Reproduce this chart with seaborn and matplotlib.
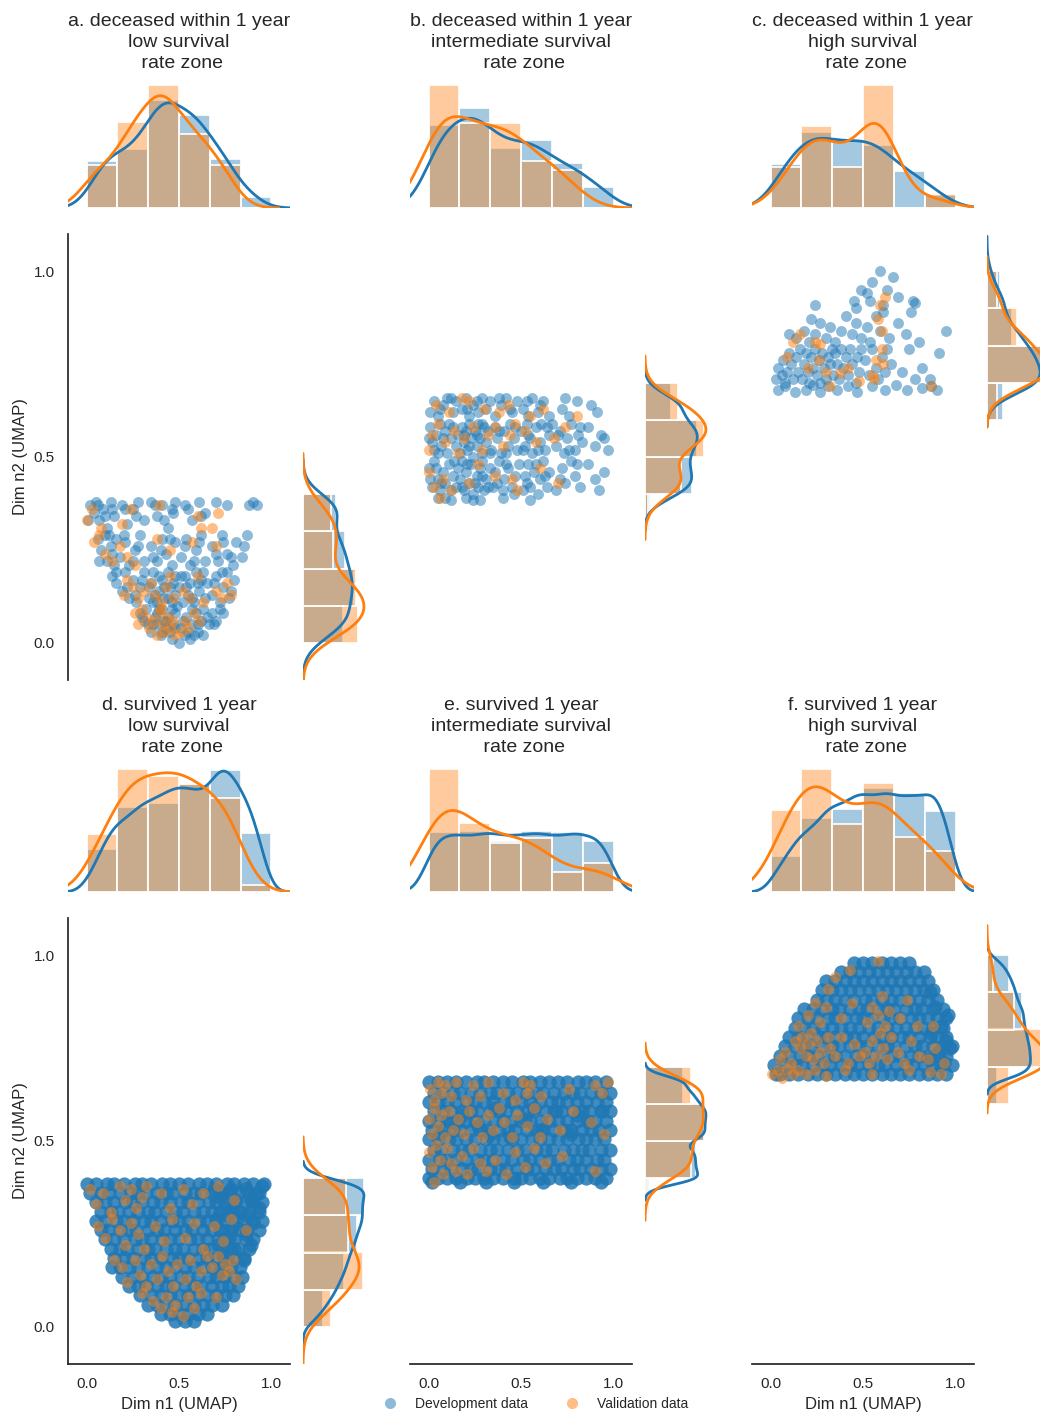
import numpy as np
import matplotlib
matplotlib.use("Agg")
import matplotlib.pyplot as plt
from matplotlib.lines import Line2D
import seaborn as sns

sns.set_theme(style="white", context="notebook")
plt.rcParams["font.family"] = ["Liberation Sans", "DejaVu Sans"]

DEV_COLOR = "#1f77b4"
VAL_COLOR = "#ff7f0e"

TITLES = [
    "a. deceased within 1 year\nlow survival\n rate zone",
    "b. deceased within 1 year\nintermediate survival\n rate zone",
    "c. deceased within 1 year\nhigh survival\n rate zone",
    "d. survived 1 year\nlow survival\n rate zone",
    "e. survived 1 year\nintermediate survival\n rate zone",
    "f. survived 1 year\nhigh survival\n rate zone",
]
X_EDGES = [0.0, 0.1667, 0.3333, 0.5, 0.6667, 0.8333, 1.0]
Y_EDGES_LOW = [0.0, 0.1, 0.2, 0.3, 0.4]
Y_EDGES_MID = [0.3, 0.4, 0.5, 0.6, 0.7]
Y_EDGES_HIGH = [0.6, 0.7, 0.8, 0.9, 1.0]
TICKS = [0.0, 0.5, 1.0]
LEGEND_LABELS = ["Development data", "Validation data"]

# ---- a. deceased / low zone ----
A_DEV = [
    (0.29, 0.08), (0.31, 0.06), (0.32, 0.09),
    (0.35, 0.03), (0.37, 0.07), (0.38, 0.05), (0.40, 0.02), (0.41, 0.09), (0.43, 0.04), (0.44, 0.07),
    (0.46, 0.01), (0.47, 0.05), (0.48, 0.08), (0.45, 0.03), (0.42, 0.06), (0.39, 0.09),
    (0.50, 0.00), (0.51, 0.04), (0.53, 0.02), (0.54, 0.07), (0.56, 0.01), (0.57, 0.05), (0.59, 0.08),
    (0.60, 0.03), (0.62, 0.06), (0.63, 0.09), (0.65, 0.07), (0.58, 0.02),
    (0.68, 0.08), (0.70, 0.06), (0.72, 0.09),
    (0.30, 0.07), (0.33, 0.05), (0.36, 0.05), (0.38, 0.08), (0.41, 0.03), (0.43, 0.06), (0.46, 0.09),
    (0.48, 0.04), (0.52, 0.06), (0.55, 0.03), (0.57, 0.09), (0.60, 0.05), (0.63, 0.02), (0.66, 0.05),
    (0.69, 0.05), (0.74, 0.08),
    (0.14, 0.18), (0.16, 0.16),
    (0.19, 0.14), (0.21, 0.19), (0.23, 0.12), (0.25, 0.17), (0.27, 0.11), (0.29, 0.15), (0.31, 0.19),
    (0.34, 0.12), (0.35, 0.16), (0.36, 0.19), (0.38, 0.11), (0.39, 0.14), (0.41, 0.17), (0.42, 0.12),
    (0.44, 0.19), (0.45, 0.15), (0.46, 0.11), (0.48, 0.13), (0.48, 0.18), (0.37, 0.13),
    (0.50, 0.15), (0.52, 0.11), (0.53, 0.18), (0.55, 0.13), (0.56, 0.16), (0.58, 0.11), (0.59, 0.19),
    (0.61, 0.14), (0.62, 0.17), (0.64, 0.12), (0.65, 0.16),
    (0.68, 0.13), (0.70, 0.18), (0.72, 0.11), (0.74, 0.15), (0.76, 0.19), (0.78, 0.14), (0.80, 0.17),
    (0.16, 0.19), (0.22, 0.15), (0.26, 0.13), (0.30, 0.17), (0.34, 0.15), (0.36, 0.11), (0.39, 0.18),
    (0.42, 0.15), (0.44, 0.12), (0.47, 0.16), (0.49, 0.10), (0.51, 0.18), (0.54, 0.15), (0.57, 0.12),
    (0.60, 0.16), (0.63, 0.19), (0.69, 0.16), (0.73, 0.19), (0.77, 0.12),
    (0.06, 0.28), (0.08, 0.25), (0.10, 0.29), (0.11, 0.22), (0.13, 0.26), (0.15, 0.21), (0.16, 0.28),
    (0.18, 0.23), (0.21, 0.27), (0.23, 0.21), (0.26, 0.25), (0.29, 0.29), (0.31, 0.22),
    (0.35, 0.26), (0.38, 0.22), (0.41, 0.28), (0.43, 0.24), (0.46, 0.21), (0.48, 0.27),
    (0.51, 0.23), (0.54, 0.28), (0.56, 0.21), (0.59, 0.25), (0.62, 0.29), (0.64, 0.22),
    (0.68, 0.26), (0.71, 0.22), (0.73, 0.29), (0.76, 0.24), (0.79, 0.21), (0.81, 0.27),
    (0.85, 0.26), (0.87, 0.29),
    (0.07, 0.22), (0.12, 0.29), (0.14, 0.24), (0.20, 0.29), (0.25, 0.22), (0.28, 0.26), (0.36, 0.23),
    (0.40, 0.25), (0.45, 0.28), (0.53, 0.26), (0.58, 0.22), (0.61, 0.27), (0.70, 0.24), (0.74, 0.27),
    (0.78, 0.23), (0.84, 0.23),
    (0.02, 0.37), (0.04, 0.35), (0.05, 0.38), (0.07, 0.33), (0.09, 0.36), (0.11, 0.31), (0.13, 0.38), (0.15, 0.34),
    (0.19, 0.37), (0.22, 0.32), (0.25, 0.36), (0.28, 0.38), (0.31, 0.33),
    (0.35, 0.38), (0.38, 0.34), (0.41, 0.37), (0.44, 0.31), (0.46, 0.36), (0.48, 0.38),
    (0.53, 0.37), (0.57, 0.33), (0.61, 0.38), (0.64, 0.35),
    (0.76, 0.37), (0.90, 0.38), (0.92, 0.37),
    (0.01, 0.33), (0.06, 0.37), (0.10, 0.34), (0.14, 0.36), (0.21, 0.36), (0.27, 0.34), (0.37, 0.37),
    (0.42, 0.33), (0.47, 0.35), (0.55, 0.36), (0.62, 0.34), (0.70, 0.38), (0.88, 0.37),
]
A_VAL = [
    (0.26, 0.08), (0.28, 0.05), (0.30, 0.09), (0.32, 0.07),
    (0.34, 0.04), (0.36, 0.06), (0.38, 0.02), (0.39, 0.08), (0.41, 0.05), (0.42, 0.03), (0.44, 0.07),
    (0.45, 0.04), (0.47, 0.06), (0.48, 0.02), (0.40, 0.09),
    (0.51, 0.03), (0.53, 0.06), (0.55, 0.04), (0.58, 0.08), (0.61, 0.06),
    (0.20, 0.13), (0.22, 0.17), (0.25, 0.15), (0.28, 0.12), (0.31, 0.14),
    (0.35, 0.16), (0.37, 0.13), (0.40, 0.11), (0.43, 0.15), (0.45, 0.18), (0.47, 0.12),
    (0.52, 0.14), (0.56, 0.12), (0.60, 0.18), (0.63, 0.11),
    (0.70, 0.14), (0.73, 0.12), (0.76, 0.16), (0.78, 0.13),
    (0.04, 0.27), (0.07, 0.29), (0.10, 0.24), (0.14, 0.22), (0.18, 0.26), (0.22, 0.23), (0.26, 0.21),
    (0.38, 0.28), (0.45, 0.25), (0.57, 0.27), (0.70, 0.26),
    (0.00, 0.33), (0.03, 0.36), (0.08, 0.31), (0.19, 0.32), (0.24, 0.36), (0.39, 0.37),
    (0.60, 0.34), (0.62, 0.31), (0.68, 0.31), (0.71, 0.35),
]

# ---- b. deceased / intermediate zone ----
B_DEV = [
    (0.05, 0.39), (0.12, 0.385), (0.20, 0.39), (0.28, 0.385), (0.40, 0.39), (0.55, 0.385),
    (0.09, 0.39), (0.24, 0.385),
    (0.00, 0.47), (0.02, 0.42), (0.03, 0.49), (0.05, 0.44), (0.06, 0.41), (0.08, 0.46), (0.09, 0.43),
    (0.11, 0.48), (0.12, 0.41), (0.13, 0.45), (0.15, 0.42), (0.16, 0.47),
    (0.17, 0.44), (0.18, 0.49), (0.19, 0.41), (0.20, 0.46), (0.22, 0.43), (0.23, 0.48), (0.24, 0.40),
    (0.26, 0.45), (0.27, 0.42), (0.28, 0.47), (0.29, 0.49), (0.30, 0.41), (0.31, 0.44), (0.33, 0.47),
    (0.35, 0.42), (0.36, 0.46), (0.38, 0.49), (0.40, 0.41), (0.41, 0.44), (0.43, 0.47), (0.45, 0.42),
    (0.47, 0.45), (0.49, 0.48),
    (0.51, 0.41), (0.52, 0.45), (0.54, 0.48), (0.55, 0.42), (0.57, 0.46), (0.59, 0.40), (0.60, 0.44),
    (0.62, 0.49), (0.64, 0.42), (0.65, 0.46),
    (0.69, 0.41), (0.72, 0.47), (0.74, 0.43), (0.77, 0.49), (0.79, 0.45), (0.82, 0.42),
    (0.86, 0.48), (0.90, 0.44), (0.95, 0.46),
    (0.01, 0.44), (0.04, 0.47), (0.07, 0.43), (0.14, 0.49), (0.18, 0.42), (0.21, 0.48), (0.25, 0.43),
    (0.29, 0.45), (0.32, 0.42), (0.37, 0.43), (0.42, 0.48), (0.46, 0.40), (0.53, 0.43), (0.58, 0.48),
    (0.63, 0.45), (0.71, 0.44), (0.80, 0.48), (0.92, 0.41),
    (0.00, 0.55), (0.01, 0.58), (0.03, 0.52), (0.04, 0.56), (0.06, 0.59), (0.07, 0.53), (0.09, 0.57),
    (0.10, 0.51), (0.12, 0.55), (0.13, 0.58), (0.15, 0.53), (0.16, 0.56),
    (0.17, 0.51), (0.18, 0.58), (0.19, 0.54), (0.20, 0.57), (0.21, 0.52), (0.22, 0.59), (0.23, 0.55),
    (0.24, 0.50), (0.25, 0.57), (0.26, 0.53), (0.27, 0.59), (0.28, 0.55), (0.29, 0.51), (0.30, 0.58),
    (0.31, 0.54), (0.32, 0.57),
    (0.34, 0.52), (0.36, 0.58), (0.37, 0.55), (0.39, 0.51), (0.41, 0.57), (0.43, 0.53), (0.44, 0.59),
    (0.46, 0.55), (0.48, 0.52),
    (0.50, 0.57), (0.52, 0.53), (0.53, 0.59), (0.55, 0.55), (0.56, 0.51), (0.58, 0.58), (0.60, 0.54),
    (0.61, 0.59), (0.63, 0.52), (0.65, 0.56),
    (0.67, 0.59), (0.69, 0.53), (0.71, 0.57), (0.73, 0.51), (0.75, 0.55), (0.77, 0.59), (0.79, 0.52),
    (0.81, 0.56), (0.83, 0.54),
    (0.86, 0.58), (0.90, 0.53), (0.93, 0.56), (0.97, 0.52),
    (0.02, 0.54), (0.05, 0.51), (0.08, 0.55), (0.11, 0.59), (0.19, 0.56), (0.22, 0.53), (0.26, 0.56),
    (0.29, 0.59), (0.33, 0.51), (0.38, 0.57), (0.42, 0.51), (0.47, 0.58), (0.51, 0.52), (0.54, 0.56),
    (0.59, 0.52), (0.64, 0.58), (0.70, 0.56), (0.76, 0.52), (0.82, 0.58), (0.95, 0.55),
    (0.01, 0.62), (0.03, 0.65), (0.05, 0.61), (0.08, 0.64), (0.10, 0.66), (0.13, 0.62), (0.15, 0.65),
    (0.18, 0.63), (0.20, 0.66), (0.22, 0.61), (0.24, 0.64), (0.27, 0.62), (0.29, 0.66), (0.31, 0.63),
    (0.33, 0.65),
    (0.36, 0.61), (0.39, 0.64), (0.42, 0.66), (0.45, 0.62), (0.48, 0.65),
    (0.51, 0.63), (0.54, 0.61), (0.56, 0.66), (0.59, 0.62), (0.62, 0.65), (0.65, 0.61),
    (0.72, 0.63), (0.76, 0.61), (0.80, 0.65), (0.88, 0.64),
    (0.06, 0.63), (0.12, 0.66), (0.21, 0.63), (0.26, 0.65), (0.38, 0.66), (0.44, 0.63), (0.53, 0.65),
    (0.60, 0.64), (0.74, 0.66), (0.91, 0.62),
]
B_VAL = [
    (0.06, 0.39),
    (0.00, 0.46), (0.03, 0.42), (0.08, 0.44), (0.12, 0.41), (0.22, 0.43), (0.27, 0.48),
    (0.36, 0.45), (0.45, 0.44), (0.48, 0.41), (0.60, 0.47), (0.70, 0.43),
    (0.00, 0.52), (0.02, 0.56), (0.05, 0.59), (0.09, 0.54), (0.14, 0.57), (0.16, 0.51),
    (0.19, 0.55), (0.24, 0.58), (0.29, 0.52), (0.32, 0.56),
    (0.36, 0.58), (0.40, 0.53), (0.44, 0.56), (0.47, 0.59), (0.52, 0.57), (0.58, 0.54),
    (0.68, 0.55), (0.74, 0.58),
    (0.04, 0.64), (0.11, 0.62), (0.18, 0.66), (0.22, 0.65), (0.30, 0.63),
    (0.38, 0.62), (0.43, 0.64), (0.55, 0.61), (0.62, 0.63), (0.80, 0.61),
]

# ---- c. deceased / high zone ----
C_DEV = [
    (0.04, 0.68), (0.08, 0.69), (0.13, 0.675), (0.19, 0.68), (0.23, 0.695), (0.27, 0.675), (0.31, 0.69),
    (0.36, 0.68), (0.42, 0.69), (0.47, 0.675), (0.55, 0.69), (0.62, 0.68),
    (0.68, 0.695), (0.74, 0.68), (0.82, 0.685), (0.87, 0.69), (0.90, 0.68),
    (0.03, 0.71), (0.04, 0.74), (0.06, 0.72), (0.07, 0.76), (0.08, 0.70), (0.09, 0.73), (0.10, 0.78),
    (0.11, 0.75), (0.12, 0.71), (0.14, 0.77), (0.15, 0.73), (0.16, 0.79),
    (0.17, 0.71), (0.18, 0.75), (0.19, 0.78), (0.20, 0.73), (0.21, 0.70), (0.22, 0.77), (0.23, 0.74),
    (0.24, 0.79), (0.25, 0.72), (0.26, 0.76), (0.27, 0.70), (0.28, 0.78), (0.29, 0.74), (0.30, 0.71),
    (0.31, 0.77), (0.32, 0.75), (0.33, 0.79),
    (0.34, 0.72), (0.35, 0.78), (0.36, 0.75), (0.37, 0.71), (0.38, 0.79), (0.39, 0.74), (0.41, 0.77),
    (0.42, 0.72), (0.43, 0.79), (0.44, 0.75), (0.46, 0.70), (0.47, 0.77), (0.48, 0.73), (0.49, 0.79),
    (0.51, 0.76), (0.53, 0.72), (0.55, 0.79), (0.57, 0.74), (0.58, 0.71), (0.60, 0.77), (0.62, 0.73),
    (0.63, 0.79), (0.65, 0.75),
    (0.71, 0.73), (0.75, 0.79), (0.78, 0.71), (0.82, 0.74), (0.86, 0.71), (0.91, 0.78),
    (0.10, 0.83), (0.14, 0.82),
    (0.18, 0.84), (0.21, 0.81), (0.22, 0.87), (0.24, 0.83), (0.27, 0.86), (0.30, 0.82), (0.32, 0.85),
    (0.35, 0.81), (0.38, 0.84), (0.41, 0.88), (0.44, 0.83), (0.46, 0.86), (0.49, 0.82),
    (0.52, 0.85), (0.54, 0.81), (0.57, 0.88), (0.59, 0.84), (0.61, 0.89), (0.64, 0.82),
    (0.69, 0.86), (0.73, 0.83), (0.76, 0.89), (0.80, 0.81), (0.95, 0.84),
    (0.24, 0.91), (0.45, 0.92), (0.46, 0.90), (0.49, 0.95),
    (0.52, 0.94), (0.54, 0.92), (0.55, 0.97), (0.59, 1.00), (0.61, 0.91), (0.63, 0.95), (0.66, 0.985),
    (0.69, 0.93), (0.77, 0.92), (0.78, 0.915),
]
C_VAL = [
    (0.09, 0.77), (0.12, 0.81), (0.16, 0.83),
    (0.20, 0.74), (0.24, 0.81), (0.26, 0.76), (0.27, 0.805), (0.32, 0.69), (0.30, 0.73),
    (0.375, 0.726), (0.48, 0.705), (0.42, 0.74),
    (0.56, 0.71), (0.60, 0.79), (0.58, 0.87), (0.59, 0.91), (0.61, 0.75), (0.55, 0.72),
    (0.57, 0.76), (0.62, 0.93), (0.60, 0.84),
    (0.87, 0.69),
]

# ---- d. survived / low zone (dense cloud read row by row) ----
D_DEV_ROWS = [
    (0.385, [0.00, 0.05, 0.11, 0.15, 0.20, 0.26, 0.30, 0.35, 0.41, 0.45, 0.50, 0.55, 0.61, 0.65, 0.70, 0.76, 0.80, 0.85, 0.90, 0.96]),
    (0.36, [0.02, 0.08, 0.12, 0.18, 0.24, 0.28, 0.32, 0.38, 0.43, 0.47, 0.53, 0.58, 0.62, 0.68, 0.73, 0.77, 0.82, 0.88, 0.93]),
    (0.335, [0.05, 0.10, 0.15, 0.21, 0.25, 0.30, 0.36, 0.40, 0.45, 0.51, 0.55, 0.60, 0.66, 0.70, 0.75, 0.80, 0.86, 0.90, 0.95]),
    (0.31, [0.08, 0.13, 0.17, 0.23, 0.28, 0.33, 0.37, 0.43, 0.48, 0.52, 0.58, 0.63, 0.68, 0.72, 0.78, 0.83, 0.88, 0.93]),
    (0.285, [0.05, 0.10, 0.16, 0.20, 0.25, 0.31, 0.35, 0.40, 0.46, 0.50, 0.55, 0.61, 0.65, 0.70, 0.75, 0.81, 0.85, 0.90, 0.95]),
    (0.26, [0.08, 0.12, 0.18, 0.23, 0.27, 0.33, 0.38, 0.42, 0.48, 0.53, 0.57, 0.63, 0.68, 0.72, 0.78, 0.83, 0.87, 0.93]),
    (0.235, [0.10, 0.15, 0.20, 0.26, 0.30, 0.35, 0.41, 0.45, 0.50, 0.56, 0.60, 0.65, 0.71, 0.75, 0.80, 0.86, 0.90]),
    (0.21, [0.13, 0.18, 0.22, 0.28, 0.33, 0.37, 0.43, 0.48, 0.52, 0.58, 0.63, 0.67, 0.73, 0.78, 0.82, 0.88]),
    (0.185, [0.15, 0.20, 0.25, 0.31, 0.35, 0.40, 0.46, 0.50, 0.55, 0.61, 0.65, 0.70, 0.76, 0.80, 0.85]),
    (0.16, [0.14, 0.18, 0.23, 0.28, 0.33, 0.38, 0.43, 0.48, 0.53, 0.58, 0.63, 0.68, 0.73, 0.78, 0.83]),
    (0.135, [0.19, 0.25, 0.30, 0.36, 0.40, 0.45, 0.51, 0.55, 0.60, 0.66, 0.70, 0.75, 0.80, 0.84]),
    (0.11, [0.23, 0.28, 0.32, 0.38, 0.43, 0.47, 0.53, 0.58, 0.62, 0.68, 0.73, 0.77, 0.82]),
    (0.085, [0.29, 0.35, 0.40, 0.45, 0.50, 0.55, 0.60, 0.65, 0.70, 0.75, 0.79]),
    (0.06, [0.33, 0.38, 0.43, 0.48, 0.53, 0.58, 0.63, 0.68, 0.73]),
    (0.035, [0.40, 0.45, 0.50, 0.55, 0.60, 0.65]),
    (0.015, [0.48, 0.53, 0.58]),
]
D_DEV_EXTRA = [
    (0.69, 0.37), (0.72, 0.35), (0.75, 0.32), (0.78, 0.37), (0.81, 0.34), (0.70, 0.29), (0.73, 0.26),
    (0.76, 0.30), (0.79, 0.27), (0.82, 0.31), (0.71, 0.22), (0.74, 0.19), (0.77, 0.24), (0.80, 0.21),
    (0.72, 0.15),
    (0.86, 0.37), (0.89, 0.34), (0.92, 0.36), (0.95, 0.38), (0.87, 0.30), (0.90, 0.28), (0.93, 0.32),
    (0.86, 0.25), (0.89, 0.22), (0.85, 0.18),
]
D_VAL = [
    (0.30, 0.09), (0.36, 0.07), (0.40, 0.05), (0.43, 0.08), (0.46, 0.04), (0.48, 0.06),
    (0.52, 0.03), (0.55, 0.08), (0.58, 0.05), (0.62, 0.09), (0.70, 0.08),
    (0.15, 0.18), (0.19, 0.16), (0.22, 0.12), (0.26, 0.18), (0.29, 0.14), (0.32, 0.11),
    (0.35, 0.17), (0.38, 0.13), (0.41, 0.19), (0.44, 0.15), (0.47, 0.11), (0.49, 0.17),
    (0.53, 0.13), (0.56, 0.18), (0.59, 0.11), (0.62, 0.15), (0.65, 0.19),
    (0.68, 0.16), (0.71, 0.19), (0.73, 0.14), (0.75, 0.17), (0.77, 0.15), (0.79, 0.18), (0.81, 0.13),
    (0.06, 0.27), (0.10, 0.24), (0.14, 0.29), (0.18, 0.26), (0.21, 0.22), (0.24, 0.28), (0.28, 0.25),
    (0.31, 0.21), (0.37, 0.27), (0.42, 0.23), (0.46, 0.29), (0.53, 0.24), (0.58, 0.28), (0.63, 0.21),
    (0.69, 0.27), (0.74, 0.23), (0.78, 0.29), (0.86, 0.26),
    (0.02, 0.37), (0.05, 0.33), (0.09, 0.36), (0.13, 0.31), (0.18, 0.38), (0.21, 0.34), (0.24, 0.37),
    (0.27, 0.32), (0.30, 0.35), (0.32, 0.38), (0.40, 0.36), (0.45, 0.32), (0.52, 0.37), (0.57, 0.33),
    (0.63, 0.36), (0.71, 0.38), (0.80, 0.34),
]

# ---- e. survived / intermediate zone ----
E_DEV_ROWS = [
    (0.40, [0.00, 0.05, 0.10, 0.15, 0.21, 0.25, 0.30, 0.35, 0.40, 0.46, 0.50, 0.55, 0.60, 0.65, 0.71, 0.75, 0.80, 0.85, 0.90, 0.96]),
    (0.425, [0.02, 0.08, 0.12, 0.18, 0.23, 0.27, 0.33, 0.38, 0.42, 0.48, 0.53, 0.57, 0.63, 0.68, 0.72, 0.78, 0.82, 0.88, 0.93, 0.98]),
    (0.45, [0.00, 0.06, 0.10, 0.15, 0.20, 0.26, 0.30, 0.35, 0.40, 0.45, 0.51, 0.55, 0.60, 0.65, 0.70, 0.76, 0.80, 0.85, 0.91, 0.95]),
    (0.475, [0.03, 0.07, 0.13, 0.18, 0.22, 0.28, 0.33, 0.37, 0.43, 0.48, 0.52, 0.58, 0.63, 0.67, 0.73, 0.78, 0.83, 0.87, 0.93, 0.98]),
    (0.505, [0.00, 0.05, 0.11, 0.15, 0.20, 0.25, 0.31, 0.35, 0.40, 0.45, 0.50, 0.56, 0.60, 0.65, 0.70, 0.75, 0.81, 0.85, 0.90, 0.95]),
    (0.53, [0.02, 0.08, 0.13, 0.17, 0.23, 0.28, 0.32, 0.38, 0.43, 0.47, 0.53, 0.58, 0.62, 0.68, 0.73, 0.77, 0.83, 0.88, 0.92, 0.98]),
    (0.555, [0.00, 0.05, 0.10, 0.16, 0.20, 0.25, 0.30, 0.36, 0.40, 0.45, 0.50, 0.55, 0.61, 0.65, 0.70, 0.75, 0.80, 0.86, 0.90, 0.96]),
    (0.58, [0.03, 0.08, 0.12, 0.18, 0.23, 0.27, 0.33, 0.38, 0.42, 0.48, 0.53, 0.57, 0.63, 0.68, 0.72, 0.78, 0.83, 0.87, 0.93, 0.98]),
    (0.605, [0.00, 0.05, 0.10, 0.15, 0.21, 0.25, 0.30, 0.35, 0.41, 0.45, 0.50, 0.55, 0.60, 0.66, 0.70, 0.75, 0.80, 0.85, 0.91, 0.96]),
    (0.63, [0.03, 0.08, 0.13, 0.17, 0.23, 0.28, 0.33, 0.37, 0.43, 0.48, 0.53, 0.58, 0.62, 0.68, 0.73, 0.78, 0.82, 0.88, 0.93, 0.98]),
    (0.66, [0.00, 0.05, 0.10, 0.15, 0.20, 0.26, 0.30, 0.35, 0.40, 0.45, 0.51, 0.55, 0.60, 0.65, 0.70, 0.75, 0.81, 0.85, 0.90, 0.96]),
]
E_DEV_EXTRA = [
    (0.02, 0.39), (0.17, 0.39), (0.31, 0.39), (0.46, 0.39), (0.62, 0.39), (0.77, 0.39), (0.93, 0.39),
    (0.06, 0.52), (0.18, 0.57), (0.27, 0.54), (0.36, 0.59), (0.44, 0.51), (0.52, 0.56), (0.61, 0.53),
    (0.69, 0.58), (0.77, 0.52), (0.86, 0.55), (0.94, 0.58), (0.12, 0.55), (0.57, 0.59), (0.81, 0.57),
    (0.33, 0.52),
]
E_VAL = [
    (0.03, 0.39),
    (0.00, 0.47), (0.02, 0.43), (0.04, 0.49), (0.06, 0.45), (0.08, 0.41), (0.10, 0.48), (0.12, 0.44),
    (0.15, 0.42), (0.18, 0.46), (0.21, 0.41), (0.24, 0.48), (0.28, 0.44), (0.31, 0.42),
    (0.36, 0.45), (0.42, 0.41), (0.47, 0.47), (0.52, 0.43), (0.57, 0.48), (0.63, 0.44), (0.72, 0.46),
    (0.90, 0.42),
    (0.00, 0.56), (0.02, 0.52), (0.03, 0.59), (0.05, 0.54), (0.07, 0.57), (0.09, 0.51), (0.11, 0.58),
    (0.13, 0.53), (0.16, 0.56), (0.19, 0.52), (0.22, 0.58), (0.26, 0.55), (0.29, 0.51), (0.32, 0.57),
    (0.35, 0.53), (0.38, 0.59), (0.41, 0.55), (0.45, 0.51), (0.48, 0.57), (0.53, 0.54), (0.57, 0.59),
    (0.60, 0.51), (0.64, 0.56), (0.71, 0.53), (0.78, 0.58), (0.88, 0.55), (0.95, 0.52),
    (0.01, 0.64), (0.03, 0.61), (0.05, 0.66), (0.07, 0.63), (0.09, 0.65), (0.12, 0.62), (0.15, 0.66),
    (0.20, 0.61), (0.24, 0.65), (0.28, 0.62), (0.32, 0.66), (0.40, 0.63), (0.47, 0.61),
    (0.51, 0.66), (0.53, 0.63), (0.55, 0.65), (0.61, 0.62), (0.76, 0.64), (0.90, 0.65), (0.94, 0.63),
    (0.97, 0.66),
]

# ---- f. survived / high zone ----
F_DEV_ROWS = [
    (0.68, [0.03, 0.05, 0.10, 0.15, 0.20, 0.25, 0.30, 0.35, 0.40, 0.45, 0.50, 0.55, 0.60, 0.65, 0.70, 0.75, 0.80, 0.85, 0.90, 0.95]),
    (0.705, [0.02, 0.08, 0.13, 0.17, 0.23, 0.28, 0.32, 0.38, 0.43, 0.47, 0.53, 0.58, 0.62, 0.68, 0.73, 0.77, 0.83, 0.88, 0.92, 0.98]),
    (0.73, [0.05, 0.10, 0.16, 0.20, 0.25, 0.31, 0.35, 0.40, 0.46, 0.50, 0.55, 0.61, 0.65, 0.70, 0.76, 0.80, 0.85, 0.91, 0.95]),
    (0.755, [0.08, 0.13, 0.18, 0.22, 0.28, 0.33, 0.37, 0.43, 0.48, 0.52, 0.58, 0.63, 0.67, 0.73, 0.78, 0.82, 0.88, 0.93, 0.98]),
    (0.78, [0.10, 0.15, 0.20, 0.26, 0.30, 0.35, 0.41, 0.45, 0.50, 0.56, 0.60, 0.65, 0.71, 0.75, 0.80, 0.86, 0.90, 0.95]),
    (0.805, [0.13, 0.18, 0.23, 0.28, 0.33, 0.38, 0.43, 0.48, 0.53, 0.58, 0.63, 0.68, 0.73, 0.78, 0.83, 0.88, 0.93]),
    (0.83, [0.15, 0.20, 0.25, 0.31, 0.35, 0.40, 0.46, 0.50, 0.55, 0.61, 0.65, 0.70, 0.76, 0.80, 0.85, 0.90, 0.95]),
    (0.855, [0.18, 0.23, 0.28, 0.33, 0.37, 0.43, 0.48, 0.52, 0.58, 0.63, 0.67, 0.73, 0.78, 0.82, 0.88, 0.93]),
    (0.88, [0.25, 0.30, 0.35, 0.40, 0.45, 0.51, 0.55, 0.60, 0.65, 0.70, 0.75, 0.80, 0.85, 0.90]),
    (0.905, [0.28, 0.33, 0.38, 0.43, 0.48, 0.53, 0.58, 0.63, 0.68, 0.73, 0.78, 0.83, 0.88]),
    (0.93, [0.30, 0.35, 0.40, 0.45, 0.50, 0.55, 0.60, 0.65, 0.70, 0.75, 0.80, 0.85]),
    (0.955, [0.38, 0.43, 0.48, 0.53, 0.58, 0.63, 0.68, 0.73, 0.78, 0.83]),
    (0.98, [0.45, 0.50, 0.55, 0.60, 0.65, 0.70, 0.75]),
]
F_DEV_EXTRA = [
    (0.86, 0.72), (0.91, 0.74), (0.95, 0.77), (0.87, 0.79), (0.92, 0.81), (0.96, 0.84), (0.89, 0.86),
    (0.86, 0.90), (0.94, 0.71), (0.97, 0.75),
]
F_VAL = [
    (0.01, 0.68), (0.04, 0.69), (0.06, 0.67), (0.09, 0.695), (0.12, 0.68), (0.15, 0.69),
    (0.05, 0.72), (0.08, 0.74), (0.11, 0.71), (0.13, 0.77), (0.16, 0.75), (0.15, 0.81),
    (0.19, 0.68), (0.24, 0.69), (0.30, 0.675),
    (0.17, 0.78), (0.19, 0.73), (0.20, 0.76), (0.22, 0.79), (0.23, 0.72), (0.25, 0.77), (0.27, 0.74),
    (0.29, 0.71), (0.31, 0.78), (0.32, 0.75),
    (0.20, 0.84), (0.24, 0.87), (0.27, 0.82), (0.30, 0.86), (0.31, 0.91),
    (0.40, 0.69), (0.35, 0.73), (0.38, 0.78), (0.42, 0.71), (0.45, 0.76), (0.48, 0.73),
    (0.38, 0.83), (0.44, 0.87), (0.35, 0.94), (0.43, 0.96),
    (0.55, 0.68), (0.51, 0.74), (0.53, 0.71), (0.55, 0.77), (0.57, 0.73), (0.59, 0.79), (0.61, 0.75),
    (0.63, 0.72), (0.65, 0.78),
    (0.52, 0.82), (0.55, 0.86), (0.58, 0.84), (0.60, 0.89), (0.62, 0.81), (0.64, 0.85), (0.58, 0.985),
    (0.75, 0.69), (0.69, 0.74), (0.72, 0.71), (0.76, 0.77), (0.80, 0.73), (0.70, 0.83), (0.74, 0.88),
    (0.79, 0.81),
    (0.86, 0.685), (0.92, 0.68), (0.85, 0.72), (0.89, 0.75), (0.94, 0.71), (0.88, 0.81),
]

# dense development clouds (d-f) are drawn a bit larger / more opaque so they read as solid
DEV_ALPHA = [0.5, 0.5, 0.5, 0.85, 0.85, 0.85]
DEV_SIZE = [62, 62, 62, 105, 105, 105]
DEV_BW = [1.0, 1.0, 1.0, 0.6, 0.6, 0.6]


def to_xy(pairs=(), rows=()):
    xs, ys = [], []
    for y, row in rows:
        xs += list(row)
        ys += [y] * len(row)
    for x, y in pairs:
        xs.append(x)
        ys.append(y)
    return np.array(xs), np.array(ys)


panels = [
    (to_xy(A_DEV), to_xy(A_VAL), Y_EDGES_LOW),
    (to_xy(B_DEV), to_xy(B_VAL), Y_EDGES_MID),
    (to_xy(C_DEV), to_xy(C_VAL), Y_EDGES_HIGH),
    (to_xy(D_DEV_EXTRA, D_DEV_ROWS), to_xy(D_VAL), Y_EDGES_LOW),
    (to_xy(E_DEV_EXTRA, E_DEV_ROWS), to_xy(E_VAL), Y_EDGES_MID),
    (to_xy(F_DEV_EXTRA, F_DEV_ROWS), to_xy(F_VAL), Y_EDGES_HIGH),
]

W, H = 1040, 1416
fig = plt.figure(figsize=(W / 100, H / 100), dpi=100)


def add_px(left, top, w, h):
    return fig.add_axes([left / W, 1 - (top + h) / H, w / W, h / H])


COL_LEFT = [68, 410, 752]
ROW_TOP = [234, 918]
MAIN_W, MAIN_H = 222, 446
TOP_H, TOP_GAP = 129, 26
RIGHT_OFF, RIGHT_W = 235, 64

for i, ((dx, dy), (vx, vy), y_edges) in enumerate(panels):
    row, col = divmod(i, 3)
    left, top = COL_LEFT[col], ROW_TOP[row]

    # joint scatter
    ax = add_px(left, top, MAIN_W, MAIN_H)
    sns.scatterplot(x=dx, y=dy, color=DEV_COLOR, alpha=DEV_ALPHA[i], s=DEV_SIZE[i], linewidth=0, ax=ax)
    sns.scatterplot(x=vx, y=vy, color=VAL_COLOR, alpha=0.5, s=62, linewidth=0, ax=ax)
    ax.set_xlim(-0.1, 1.1)
    ax.set_ylim(-0.1, 1.1)
    ax.set_xticks(TICKS)
    ax.set_yticks(TICKS)
    sns.despine(ax=ax, left=(col != 0), bottom=(row != 1))
    ax.tick_params(labelleft=(col == 0), labelbottom=(row == 1))
    ax.set_ylabel("Dim n2 (UMAP)" if col == 0 else "")
    ax.set_xlabel("Dim n1 (UMAP)" if (row == 1 and col != 1) else "")

    series = [(dx, dy, DEV_COLOR, DEV_BW[i]), (vx, vy, VAL_COLOR, 1.0)]

    # top marginal
    axt = add_px(left, top - TOP_GAP - TOP_H, MAIN_W, TOP_H)
    for x, _, c, bw in series:
        sns.histplot(x=x, bins=X_EDGES, stat="density", kde=True, color=c, alpha=0.4,
                     edgecolor="white", linewidth=1.2, kde_kws={"cut": 3, "bw_adjust": bw},
                     line_kws={"linewidth": 2}, ax=axt)
    axt.set_xlim(-0.1, 1.1)
    axt.axis("off")
    axt.set_title(TITLES[i], fontsize=14, color=".15", linespacing=1.29, pad=8.2)

    # right marginal
    axr = add_px(left + RIGHT_OFF, top, RIGHT_W, MAIN_H)
    for _, y, c, bw in series:
        sns.histplot(y=y, bins=y_edges, stat="density", kde=True, color=c, alpha=0.4,
                     edgecolor="white", linewidth=1.2, kde_kws={"cut": 3, "bw_adjust": bw},
                     line_kws={"linewidth": 2}, ax=axr)
    axr.set_ylim(-0.1, 1.1)
    axr.axis("off")

handles = [
    Line2D([], [], marker="o", linestyle="", color=DEV_COLOR, alpha=0.5, markersize=8, markeredgewidth=0),
    Line2D([], [], marker="o", linestyle="", color=VAL_COLOR, alpha=0.5, markersize=8, markeredgewidth=0),
]
fig.legend(handles, LEGEND_LABELS, loc="center", bbox_to_anchor=(532 / W, 1 - 1404 / H),
           ncol=2, frameon=False, fontsize=10, columnspacing=2.2)

fig.savefig("out.png", dpi=100)
